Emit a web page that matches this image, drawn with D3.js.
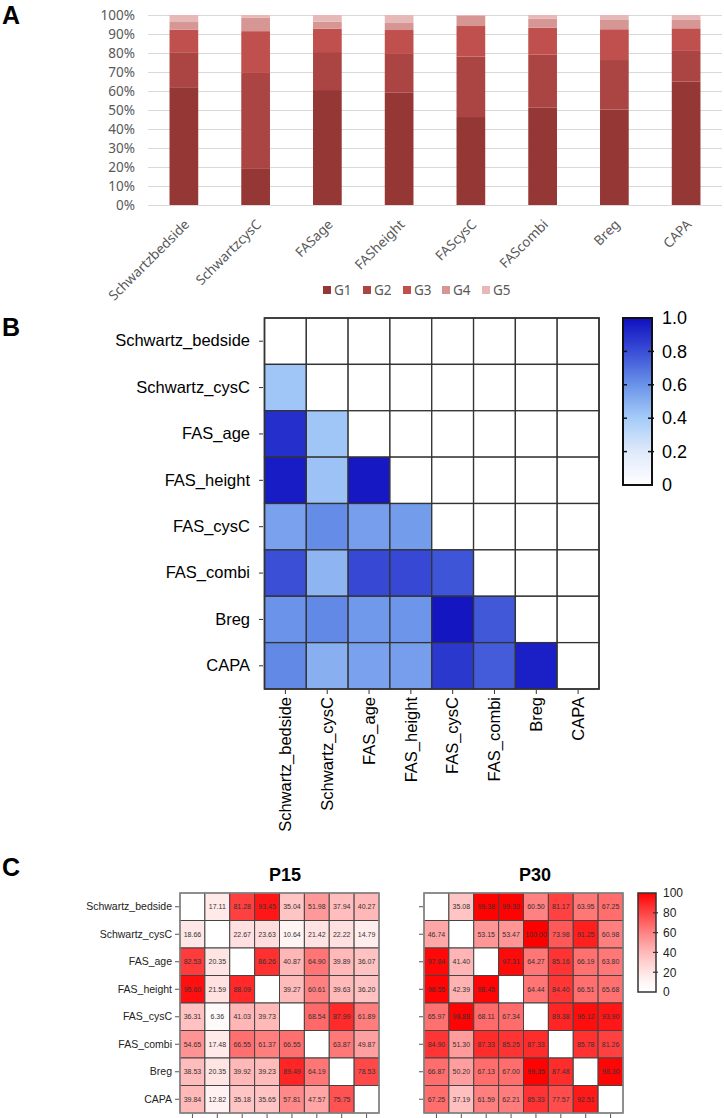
<!DOCTYPE html>
<html><head><meta charset="utf-8">
<script src="https://cdn.jsdelivr.net/npm/d3@7"></script>
<style>body{margin:0;background:#fff}svg{display:block}</style>
</head><body>
<svg id="c" width="724" height="1118"></svg>
<script>
// ---------- DATA ----------
const catsA = ["Schwartzbedside","SchwartzcysC","FASage","FASheight","FAScysC","FAScombi","Breg","CAPA"];
const groups = ["G1","G2","G3","G4","G5"];
const G1 = [62.0, 19.0, 60.5, 59.3, 46.3, 51.2, 50.2, 64.9];
const G2 = [18.4, 50.5, 20.0, 20.2, 31.8, 27.9, 26.1, 16.2];
const G3 = [11.9, 22.0, 12.3, 12.6, 16.1, 14.2, 16.2, 11.9];
const G4 = [4.0, 7.0, 3.7, 3.7, 5.3, 4.8, 5.2, 4.4];
const G5 = [3.7, 1.5, 3.5, 4.2, 0.5, 1.9, 2.3, 2.6];
const yTicksA = [0,10,20,30,40,50,60,70,80,90,100];

const names = ["Schwartz_bedside","Schwartz_cysC","FAS_age","FAS_height","FAS_cysC","FAS_combi","Breg","CAPA"];
// correlation (lower triangle), null = blank
const corr = [
  [null,null,null,null,null,null,null,null],
  [0.42,null,null,null,null,null,null,null],
  [0.90,0.42,null,null,null,null,null,null],
  [0.96,0.43,0.97,null,null,null,null,null],
  [0.55,0.62,0.56,0.57,null,null,null,null],
  [0.80,0.48,0.82,0.82,0.78,null,null,null],
  [0.60,0.63,0.58,0.59,0.98,0.77,null,null],
  [0.63,0.50,0.55,0.56,0.87,0.76,0.95,null]
];
const corrTicks = [0,0.2,0.4,0.6,0.8,1.0];

const P15 = [
  [null,17.11,81.28,93.45,35.04,51.98,37.94,40.27],
  [18.66,null,22.67,23.63,10.64,21.42,22.22,14.79],
  [82.53,20.35,null,86.26,40.87,64.90,39.89,36.07],
  [95.60,21.59,88.09,null,39.27,60.61,39.63,36.20],
  [36.31,6.36,41.03,39.73,null,68.54,87.99,61.89],
  [54.65,17.48,66.55,61.37,66.55,null,63.87,49.87],
  [38.53,20.35,39.92,39.23,89.49,64.19,null,78.53],
  [39.84,12.82,35.18,35.65,57.81,47.57,75.75,null]
];
const P30 = [
  [null,35.08,99.38,99.30,60.50,81.17,63.95,67.25],
  [46.74,null,53.15,53.47,100.00,73.98,91.25,60.98],
  [97.84,41.40,null,97.31,64.27,85.16,66.19,63.80],
  [98.55,42.39,98.45,null,64.44,84.40,66.51,65.68],
  [65.97,98.88,68.11,67.34,null,89.38,96.12,93.90],
  [84.90,51.30,87.33,85.25,87.33,null,85.78,81.26],
  [66.87,50.20,67.13,67.00,99.35,87.48,null,98.30],
  [67.25,37.19,61.59,62.21,85.33,77.57,92.51,null]
];
const pTicks = [0,20,40,60,80,100];

// ---------- DRAW ----------
const svg = d3.select("#c");
const defs = svg.append("defs");

function panelLabel(t,x,y){
  svg.append("text").attr("x",x).attr("y",y).text(t)
    .attr("font-family","Liberation Sans, Arial, sans-serif").attr("font-weight","bold").attr("font-size",25).attr("fill","#000");
}

// ===== Panel A =====
panelLabel("A",2,24);
const gA = svg.append("g");
const colA = ["#943735","#AB4543","#C0504D","#D59694","#E6B9B8"];
const xA = d3.scaleBand().domain(catsA).range([148,722]).paddingInner(0.6).paddingOuter(0.3);
const yA = d3.scaleLinear().domain([0,100]).range([205,15]);
const fontA = "'Noto Sans', 'Open Sans', sans-serif";
gA.selectAll("line.g").data(yTicksA).join("line")
  .attr("x1",148).attr("x2",722).attr("y1",d=>yA(d)+0.5).attr("y2",d=>yA(d)+0.5)
  .attr("stroke","#d9d9d9").attr("stroke-width",1);
const yAxisA = d3.axisLeft(yA).tickValues(yTicksA).tickFormat(d=>d+"%").tickSize(0).tickPadding(13);
const ya = gA.append("g").attr("transform","translate(148,0)").call(yAxisA);
ya.select(".domain").remove();
ya.selectAll("text").attr("font-family",fontA).attr("font-size",13.5).attr("fill","#595959");
const rowsA = catsA.map((c,i)=>({cat:c,G1:G1[i],G2:G2[i],G3:G3[i],G4:G4[i],G5:G5[i]}));
const stackA = d3.stack().keys(groups)(rowsA);
gA.selectAll("g.s").data(stackA).join("g").attr("fill",(d,i)=>colA[i])
  .selectAll("rect").data(d=>d).join("rect")
  .attr("x",d=>xA(d.data.cat)).attr("width",xA.bandwidth())
  .attr("y",d=>yA(d[1])).attr("height",d=>yA(d[0])-yA(d[1]));
gA.selectAll("text.xl").data(catsA).join("text")
  .attr("transform",d=>`translate(${xA(d)+xA.bandwidth()/2+3},${222}) rotate(-45)`)
  .attr("text-anchor","end").attr("dy","0.35em")
  .attr("font-family",fontA).attr("font-size",13.5).attr("fill","#595959").text(d=>d);
const legX = [323,363,403,442,482];
const lg = gA.selectAll("g.lg").data(groups).join("g").attr("transform",(d,i)=>`translate(${legX[i]},290)`);
lg.append("rect").attr("x",0).attr("y",-4).attr("width",8).attr("height",8).attr("fill",(d,i)=>colA[i]);
lg.append("text").attr("x",11).attr("dy","0.35em").attr("font-family",fontA).attr("font-size",13.5).attr("fill","#595959").text(d=>d);

// ===== Panel B =====
panelLabel("B",2,336);
const gB = svg.append("g");
const fontB = "'Liberation Sans', Arial, sans-serif";
const xB = d3.scaleBand().domain(names).range([264.5,599]);
const yB = d3.scaleBand().domain(names).range([318,689]);
const blue = d3.scaleLinear().domain([0,0.2,0.4,0.6,0.8,1.0])
  .range(["#ffffff","#dfe9fb","#a6ccf8","#6a93e9","#3a4ed6","#1010c0"]).clamp(true);
const cellsB = [];
names.forEach((r,i)=>names.forEach((c,j)=>cellsB.push({r,c,v:corr[i][j]})));
gB.selectAll("rect.c").data(cellsB).join("rect")
  .attr("x",d=>xB(d.c)).attr("y",d=>yB(d.r)).attr("width",xB.bandwidth()).attr("height",yB.bandwidth())
  .attr("fill",d=>d.v==null?"#fff":blue(d.v)).attr("stroke","#333").attr("stroke-width",1.3);
gB.append("rect").attr("x",264.5).attr("y",318).attr("width",599-264.5).attr("height",689-318)
  .attr("fill","none").attr("stroke","#333").attr("stroke-width",1.6);
const yaB = gB.append("g").attr("transform","translate(263,0)").call(d3.axisLeft(yB).tickSize(4).tickPadding(9));
yaB.select(".domain").remove();
yaB.selectAll("text").attr("font-family",fontB).attr("font-size",16.5).attr("fill","#000");
yaB.selectAll("line").attr("stroke","#333");
const xaB = gB.append("g").attr("transform","translate(0,690)").call(d3.axisBottom(xB).tickSize(4).tickPadding(3));
xaB.select(".domain").remove();
xaB.selectAll("line").attr("stroke","#333");
xaB.selectAll("text").attr("font-family",fontB).attr("font-size",16.5).attr("fill","#000")
  .attr("transform","rotate(-90)").attr("text-anchor","end").attr("y",0).attr("x",-7).attr("dy","0.35em");
const gradB = defs.append("linearGradient").attr("id","gb").attr("x1",0).attr("y1",1).attr("x2",0).attr("y2",0);
d3.range(0,1.0001,0.05).forEach(t=>gradB.append("stop").attr("offset",t).attr("stop-color",blue(t)));
const cbB = d3.scaleLinear().domain([0,1]).range([485,318]);
gB.append("rect").attr("x",623).attr("y",318).attr("width",29).attr("height",167).attr("fill","url(#gb)")
  .attr("stroke","#111").attr("stroke-width",2);
const cbAxB = gB.append("g").attr("transform","translate(652,0)")
  .call(d3.axisRight(cbB).tickValues(corrTicks).tickFormat(d=>d===0?"0":d3.format(".1f")(d)).tickSize(0).tickPadding(10));
cbAxB.select(".domain").remove();
cbAxB.selectAll("text").attr("font-family",fontB).attr("font-size",18).attr("fill","#000");
gB.selectAll("line.cbt").data(corrTicks.slice(1,-1)).join("line")
  .attr("x1",648).attr("x2",654).attr("y1",d=>cbB(d)).attr("y2",d=>cbB(d)).attr("stroke","#111").attr("stroke-width",1.5);
gB.selectAll("line.cbt2").data(corrTicks.slice(1,-1)).join("line")
  .attr("x1",622).attr("x2",627).attr("y1",d=>cbB(d)).attr("y2",d=>cbB(d)).attr("stroke","#111").attr("stroke-width",1.5);

// ===== Panel C =====
panelLabel("C",2,876);
const fontC = "'Liberation Sans', Arial, sans-serif";
const red = d3.scaleSequential(t=>d3.interpolateRgb("#ffffff","#ff0000")(Math.pow(t,1.4))).domain([0,100]);

function heat(data,x0,x1,title,titleX,showLabels){
  const g = svg.append("g");
  const x = d3.scaleBand().domain(names).range([x0,x1]);
  const y = d3.scaleBand().domain(names).range([893,1113]);
  const cells=[];
  names.forEach((r,i)=>names.forEach((c,j)=>cells.push({r,c,v:data[i][j]})));
  g.selectAll("rect.c").data(cells).join("rect")
    .attr("x",d=>x(d.c)).attr("y",d=>y(d.r)).attr("width",x.bandwidth()).attr("height",y.bandwidth())
    .attr("fill",d=>d.v==null?"#fff":red(d.v)).attr("stroke","#444").attr("stroke-width",1);
  g.append("rect").attr("x",x0).attr("y",893).attr("width",x1-x0).attr("height",220)
    .attr("fill","none").attr("stroke","#888").attr("stroke-width",1.5);
  g.selectAll("text.v").data(cells.filter(d=>d.v!=null)).join("text")
    .attr("x",d=>x(d.c)+x.bandwidth()/2).attr("y",d=>y(d.r)+y.bandwidth()/2).attr("dy","0.35em")
    .attr("text-anchor","middle").attr("font-family",fontC).attr("font-size",7).attr("fill","#333")
    .text(d=>d3.format(".2f")(d.v));
  const ya = g.append("g").attr("transform",`translate(${x0-1},0)`).call(d3.axisLeft(y).tickSize(4).tickPadding(3));
  ya.select(".domain").remove();
  ya.selectAll("line").attr("stroke","#555");
  if(showLabels) ya.selectAll("text").attr("font-family",fontC).attr("font-size",10.5).attr("fill","#222");
  else ya.selectAll("text").remove();
  const xa = g.append("g").attr("transform","translate(0,1114)").call(d3.axisBottom(x).tickSize(4));
  xa.select(".domain").remove(); xa.selectAll("text").remove(); xa.selectAll("line").attr("stroke","#555");
  g.append("text").attr("x",titleX).attr("y",881).attr("text-anchor","middle")
    .attr("font-family",fontC).attr("font-weight","bold").attr("font-size",18).text(title);
}
heat(P15,180,379,"P15",285,true);
heat(P30,424,623,"P30",535,false);

const gradC = defs.append("linearGradient").attr("id","gc").attr("x1",0).attr("y1",1).attr("x2",0).attr("y2",0);
d3.range(0,100.01,5).forEach(v=>gradC.append("stop").attr("offset",v/100).attr("stop-color",red(v)));
const cbC = d3.scaleLinear().domain([0,100]).range([992,893]);
svg.append("rect").attr("x",638).attr("y",893).attr("width",18).attr("height",99).attr("fill","url(#gc)")
  .attr("stroke","#333").attr("stroke-width",1.5);
const cbAxC = svg.append("g").attr("transform","translate(656,0)")
  .call(d3.axisRight(cbC).tickValues(pTicks).tickSize(0).tickPadding(7));
cbAxC.select(".domain").remove();
cbAxC.selectAll("text").attr("font-family",fontC).attr("font-size",12).attr("fill","#222");
svg.selectAll("line.cct").data(pTicks.slice(1,-1)).join("line")
  .attr("x1",653).attr("x2",658).attr("y1",d=>cbC(d)).attr("y2",d=>cbC(d)).attr("stroke","#333").attr("stroke-width",1.2);
</script>
</body></html>
